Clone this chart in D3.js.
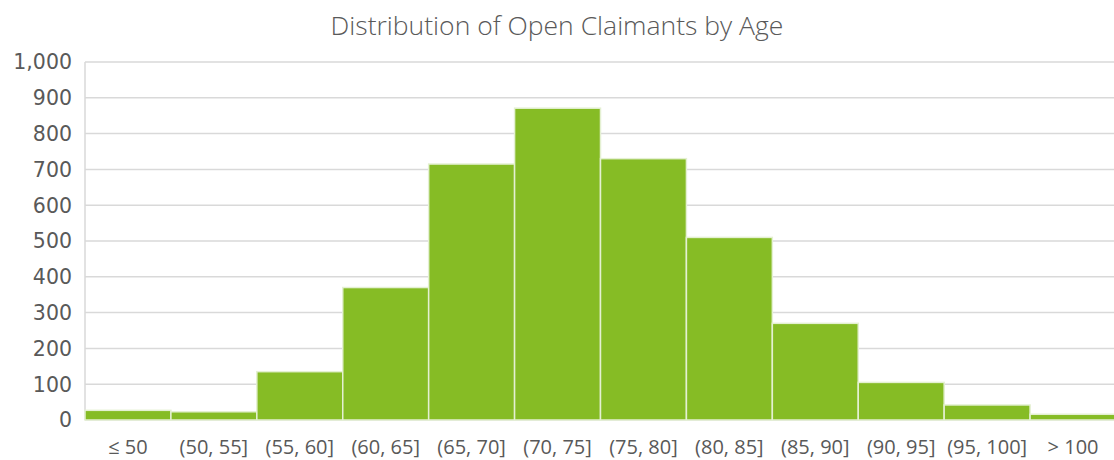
<!DOCTYPE html>
<html lang="en">
<head>
    <meta charset="UTF-8">
    <title>Distribution of Open Claimants by Age</title>
    <script src="https://cdnjs.cloudflare.com/ajax/libs/d3/7.8.5/d3.min.js"></script>
    <style>
        body { margin: 0; background: #fff; }
        svg { display: block; font-family: 'Open Sans', sans-serif; }
    </style>
</head>
<body>
    <div id="chart"></div>
    <script>
        // histogram buckets and counts
        const ageBands = ["≤ 50", "(50, 55]", "(55, 60]", "(60, 65]", "(65, 70]", "(70, 75]",
                          "(75, 80]", "(80, 85]", "(85, 90]", "(90, 95]", "(95, 100]", "> 100"];
        const claimantCounts = [27, 23, 135, 370, 715, 871, 730, 510, 270, 105, 42, 16];
        const yTicks = [0, 100, 200, 300, 400, 500, 600, 700, 800, 900, 1000];

        const width = 1114, height = 460;
        const margin = { top: 62, right: -2, bottom: 40, left: 85 };

        const svg = d3.select("#chart").append("svg")
            .attr("width", width)
            .attr("height", height);

        const x = d3.scaleBand()
            .domain(ageBands)
            .range([margin.left, width - margin.right])
            .padding(0);

        const y = d3.scaleLinear()
            .domain([0, 1000])
            .range([height - margin.bottom, margin.top]);

        // title
        svg.append("text")
            .attr("x", width / 2)
            .attr("y", 35)
            .attr("text-anchor", "middle")
            .attr("fill", "#595959")
            .style("font-size", "26.5px")
            .style("font-weight", 300)
            .text("Distribution of Open Claimants by Age");

        // gridlines
        svg.append("g")
            .selectAll("line")
            .data(yTicks)
            .join("line")
            .attr("x1", margin.left)
            .attr("x2", width)
            .attr("y1", d => y(d))
            .attr("y2", d => y(d))
            .attr("stroke", "#d9d9d9")
            .attr("stroke-width", 1.5);

        // y axis line
        svg.append("line")
            .attr("x1", margin.left).attr("x2", margin.left)
            .attr("y1", y(1000)).attr("y2", y(0))
            .attr("stroke", "#d9d9d9")
            .attr("stroke-width", 1.5);

        // y labels (verdana-ish in the original)
        svg.append("g")
            .selectAll("text")
            .data(yTicks)
            .join("text")
            .attr("x", 72)
            .attr("y", d => y(d))
            .attr("dy", "0.36em")
            .attr("text-anchor", "end")
            .attr("fill", "#595959")
            .style("font-family", "'DejaVu Sans', sans-serif")
            .style("font-size", "20.5px")
            .text(d => d3.format(",")(d));

        // bars
        svg.append("g")
            .selectAll("rect")
            .data(claimantCounts)
            .join("rect")
            .attr("x", (d, i) => x(ageBands[i]))
            .attr("y", d => y(d))
            .attr("width", x.bandwidth())
            .attr("height", d => y(0) - y(d))
            .attr("fill", "#86bc25")
            .attr("stroke", "#e4f0d2")
            .attr("stroke-width", 1.5);

        // x labels
        svg.append("g")
            .selectAll("text")
            .data(ageBands)
            .join("text")
            .attr("x", d => x(d) + x.bandwidth() / 2)
            .attr("y", 454)
            .attr("text-anchor", "middle")
            .attr("fill", "#595959")
            .style("font-size", "20px")
            .text(d => d);
    </script>
</body>
</html>
